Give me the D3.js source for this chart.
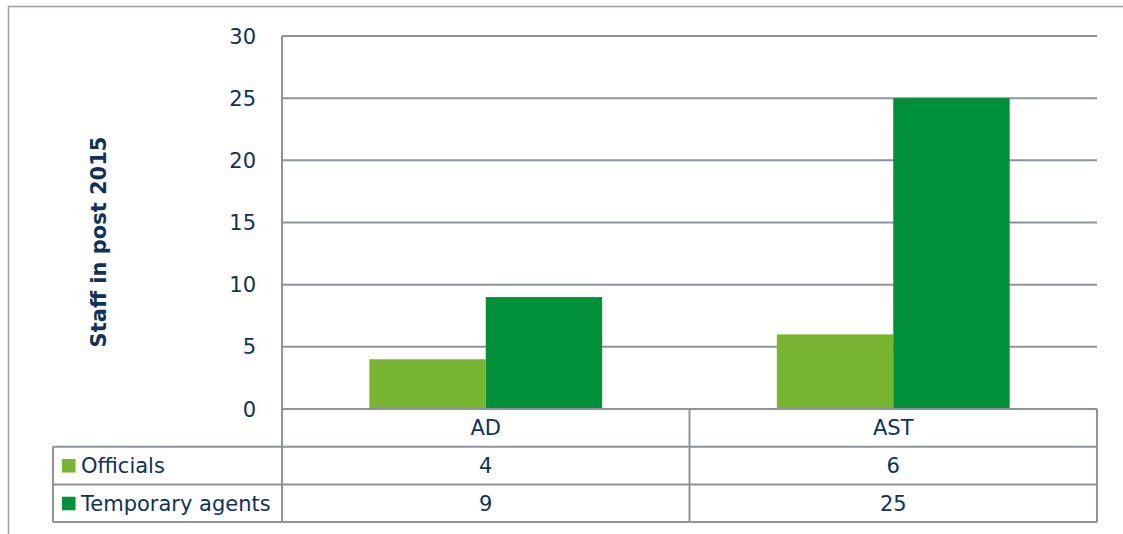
<!DOCTYPE html>
<html>
<head>
<meta charset="utf-8">
<script src="https://cdn.jsdelivr.net/npm/d3@7"></script>
<style>
  body { margin: 0; background: #fff; }
  text { font-family: "DejaVu Sans", Verdana, sans-serif; fill: #10315c; }
</style>
</head>
<body>
<div id="chart"></div>
<script>
// chart values
var categories = ["AD", "AST"];
var series = ["Officials", "Temporary agents"];
var officials = [4, 6];
var temporaryAgents = [9, 25];
var yTicks = [0, 5, 10, 15, 20, 25, 30];
var colors = ["#78b632", "#00913a"];

var values = [officials, temporaryAgents];

var width = 1123, height = 534;
var plot = { left: 282, right: 1097, top: 36, bottom: 409 };
var rowH = 37.7; // data table row height
var tableLeft = 53;
var gridColor = "#8e9299";

var svg = d3.select("#chart").append("svg")
    .attr("width", width)
    .attr("height", height);

// outer frame (runs off the right and bottom edges)
svg.append("path")
    .attr("d", "M8.5," + height + "V6.5H" + width)
    .attr("fill", "none")
    .attr("stroke", "#9a9da3")
    .attr("stroke-width", 1.5);

var y = d3.scaleLinear().domain([0, 30]).range([plot.bottom, plot.top]);

var x0 = d3.scaleBand()
    .domain(categories)
    .range([plot.left, plot.right]);

// Excel style: gap width 150% -> band is 3.5 bar widths
var bw = x0.bandwidth() / 3.5;
var x1 = d3.scaleBand()
    .domain(series)
    .range([bw * 0.75, bw * 2.75]);

// gridlines
svg.append("g")
    .selectAll("line")
    .data(yTicks)
    .enter().append("line")
    .attr("x1", plot.left)
    .attr("x2", plot.right)
    .attr("y1", function (d) { return y(d); })
    .attr("y2", function (d) { return y(d); })
    .attr("stroke", gridColor)
    .attr("stroke-width", 2);

// bars
var groups = svg.append("g")
    .selectAll("g")
    .data(categories)
    .enter().append("g")
    .attr("transform", function (d) { return "translate(" + x0(d) + ",0)"; });

groups.selectAll("rect")
    .data(function (d, i) {
        return series.map(function (s, j) { return { s: s, v: values[j][i], j: j }; });
    })
    .enter().append("rect")
    .attr("x", function (d) { return x1(d.s); })
    .attr("width", x1.bandwidth())
    .attr("y", function (d) { return y(d.v); })
    .attr("height", function (d) { return y(0) - y(d.v); })
    .attr("fill", function (d) { return colors[d.j]; });

// redraw the zero line over the bars
svg.append("line")
    .attr("x1", plot.left).attr("x2", plot.right)
    .attr("y1", y(0)).attr("y2", y(0))
    .attr("stroke", gridColor).attr("stroke-width", 2);

// y tick labels
svg.append("g")
    .selectAll("text")
    .data(yTicks)
    .enter().append("text")
    .attr("x", 256)
    .attr("y", function (d) { return y(d); })
    .attr("dy", "0.36em")
    .attr("text-anchor", "end")
    .style("font-size", "21px")
    .text(function (d) { return d; });

// axis title
svg.append("text")
    .attr("transform", "translate(106,242) rotate(-90)")
    .attr("text-anchor", "middle")
    .style("font-size", "21px")
    .style("font-weight", "bold")
    .text("Staff in post 2015");

// data table
var rowTops = [plot.bottom, plot.bottom + rowH, plot.bottom + rowH * 2];
var tableBottom = plot.bottom + rowH * 3;

var table = svg.append("g")
    .attr("stroke", gridColor)
    .attr("stroke-width", 2)
    .attr("fill", "none");

// horizontal rules
[rowTops[1], rowTops[2], tableBottom].forEach(function (yy) {
    table.append("line")
        .attr("x1", tableLeft).attr("x2", plot.right)
        .attr("y1", yy).attr("y2", yy);
});
// vertical rules
table.append("line")
    .attr("x1", plot.left).attr("x2", plot.left)
    .attr("y1", plot.top).attr("y2", tableBottom);
table.append("line")
    .attr("x1", tableLeft).attr("x2", tableLeft)
    .attr("y1", rowTops[1]).attr("y2", tableBottom);
categories.forEach(function (c) {
    var xx = x0(c) + x0.bandwidth();
    table.append("line")
        .attr("x1", xx).attr("x2", xx)
        .attr("y1", plot.bottom).attr("y2", tableBottom);
});

// category header row
svg.append("g")
    .selectAll("text")
    .data(categories)
    .enter().append("text")
    .attr("x", function (d) { return x0(d) + x0.bandwidth() / 2; })
    .attr("y", rowTops[0] + rowH / 2)
    .attr("dy", "0.36em")
    .attr("text-anchor", "middle")
    .style("font-size", "21px")
    .text(function (d) { return d; });

// series rows: legend key + values
series.forEach(function (s, j) {
    var cy = rowTops[j + 1] + rowH / 2;
    svg.append("rect")
        .attr("x", 62)
        .attr("y", cy - 6.5)
        .attr("width", 13.5)
        .attr("height", 13.5)
        .attr("fill", colors[j]);
    svg.append("text")
        .attr("x", 81)
        .attr("y", cy)
        .attr("dy", "0.36em")
        .style("font-size", "21px")
        .text(s);
    svg.append("g")
        .selectAll("text")
        .data(categories)
        .enter().append("text")
        .attr("x", function (d) { return x0(d) + x0.bandwidth() / 2; })
        .attr("y", cy)
        .attr("dy", "0.36em")
        .attr("text-anchor", "middle")
        .style("font-size", "21px")
        .text(function (d, i) { return values[j][i]; });
});
</script>
</body>
</html>
